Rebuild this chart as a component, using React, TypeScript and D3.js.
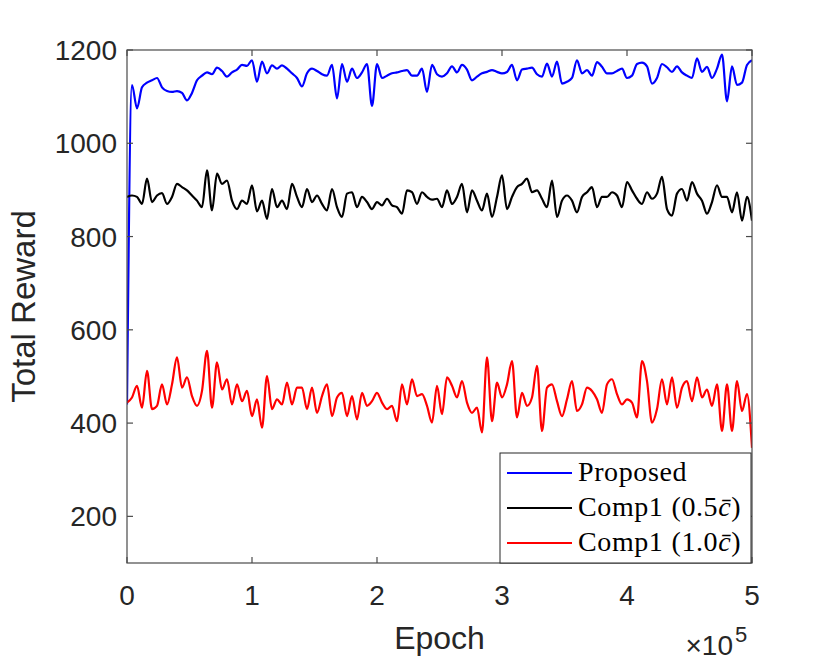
import * as d3 from 'd3';

const EPOCH_STEP = 4000;

const proposed = [
  440, 1125, 1075, 1120, 1130, 1135, 1140, 1120, 1112, 1110,
  1112, 1108, 1092, 1108, 1135, 1145, 1152, 1148, 1162, 1155,
  1143, 1152, 1158, 1168, 1166, 1178, 1132, 1175, 1150, 1167,
  1160, 1167, 1160, 1150, 1140, 1122, 1150, 1160, 1155, 1148,
  1145, 1168, 1096, 1170, 1132, 1160, 1140, 1152, 1170, 1080,
  1170, 1140, 1145, 1150, 1152, 1155, 1157, 1145, 1145, 1160,
  1110, 1168, 1148, 1143, 1150, 1165, 1152, 1168, 1158, 1135,
  1143, 1150, 1153, 1157, 1153, 1150, 1153, 1168, 1135, 1158,
  1160, 1162, 1148, 1143, 1171, 1143, 1175, 1128, 1132, 1140,
  1178, 1150, 1157, 1145, 1174, 1164, 1150, 1150, 1155, 1160,
  1140, 1145, 1170, 1173, 1165, 1128, 1140, 1170, 1163, 1153,
  1165, 1152, 1145, 1140, 1182, 1153, 1164, 1140, 1160, 1190,
  1090, 1165, 1125, 1130, 1168, 1178,
];

const comp05 = [
  885, 888, 885, 870, 924, 874, 888, 893, 870, 885,
  913, 906, 899, 888, 877, 863, 942, 856, 935, 913,
  920, 877, 859, 877, 870, 910, 854, 877, 838, 902,
  863, 877, 859, 913, 885, 863, 902, 874, 888, 870,
  856, 902, 863, 842, 892, 895, 863, 885, 874, 859,
  874, 867, 881, 867, 863, 849, 899, 895, 870, 895,
  885, 879, 881, 863, 899, 870, 885, 913, 852, 899,
  877, 856, 892, 842, 885, 931, 859, 885, 906, 913,
  924, 895, 899, 881, 863, 920, 842, 877, 888, 877,
  852, 885, 895, 906, 863, 885, 885, 895, 888, 863,
  917, 899, 881, 870, 895, 881, 892, 928, 859, 845,
  892, 902, 877, 917, 892, 877, 849, 874, 910, 885,
  885, 852, 895, 834, 885, 834,
];

const comp10 = [
  444, 455, 480, 433, 512, 430, 437, 483, 440, 483,
  541, 476, 498, 458, 437, 469, 555, 433, 530, 472,
  494, 440, 483, 447, 469, 415, 451, 390, 501, 430,
  451, 440, 487, 440, 476, 476, 430, 476, 422, 458,
  483, 415, 455, 465, 415, 458, 408, 465, 437, 447,
  465, 444, 430, 437, 404, 483, 440, 494, 458, 462,
  437, 401, 480, 419, 498, 480, 455, 490, 444, 422,
  433, 380, 541, 404, 487, 455, 483, 533, 412, 465,
  437, 455, 523, 383, 476, 483, 447, 415, 451, 490,
  426, 440, 476, 469, 451, 422, 483, 494, 462, 440,
  451, 444, 412, 533, 490, 401, 430, 494, 440, 498,
  433, 476, 490, 447, 498, 455, 472, 437, 483, 383,
  483, 383, 490, 426, 462, 347,
];

const seriesNames = ['Proposed', 'Comp1', 'Comp1'];
const seriesCoef = ['', '0.5', '1.0'];
const seriesColors = ['#0000ff', '#000000', '#ff0000'];

const xTicks = [0, 100000, 200000, 300000, 400000, 500000];
const yTicks = [200, 400, 600, 800, 1000, 1200];

const WIDTH = 830;
const HEIGHT = 664;
const PLOT = { left: 127, right: 752, top: 50, bottom: 563 };
const AXIS_COLOR = '#4a4a4a';
const TEXT_COLOR = '#262626';
const TICK_LEN = 6;
const SANS = '"Liberation Sans", Arial, Helvetica, sans-serif';
const SERIF = '"Liberation Serif", "Times New Roman", serif';

export default function App() {
  const x = d3.scaleLinear().domain([0, 500000]).range([PLOT.left, PLOT.right]);
  const y = d3.scaleLinear().domain([100, 1200]).range([PLOT.bottom, PLOT.top]);

  const line = d3
    .line<number>()
    .x((_, i) => x(i * EPOCH_STEP))
    .y((d) => y(d))
    .curve(d3.curveMonotoneX);

  const allSeries = [proposed, comp05, comp10];

  // legend placement
  const legend = { x: 500, y: 453, w: 251, h: 110 };
  const rowY = [473, 508, 543];

  return (
    <svg
      width={WIDTH}
      height={HEIGHT}
      style={{ position: 'absolute', left: 0, top: 0, background: '#fff' }}
    >
      <rect x={0} y={0} width={WIDTH} height={HEIGHT} fill="#fff" />

      <defs>
        <clipPath id="plot-clip">
          <rect
            x={PLOT.left}
            y={PLOT.top}
            width={PLOT.right - PLOT.left}
            height={PLOT.bottom - PLOT.top}
          />
        </clipPath>
      </defs>

      {/* data */}
      <g clipPath="url(#plot-clip)">
        {allSeries.map((s, k) => (
          <path
            key={k}
            d={line(s) ?? ''}
            fill="none"
            stroke={seriesColors[k]}
            strokeWidth={2.2}
            strokeLinejoin="round"
          />
        ))}
      </g>

      {/* box + ticks */}
      <rect
        x={PLOT.left}
        y={PLOT.top}
        width={PLOT.right - PLOT.left}
        height={PLOT.bottom - PLOT.top}
        fill="none"
        stroke={AXIS_COLOR}
        strokeWidth={1.2}
      />
      {xTicks.map((t) => (
        <g key={`x${t}`}>
          <line x1={x(t)} x2={x(t)} y1={PLOT.bottom} y2={PLOT.bottom - TICK_LEN} stroke={AXIS_COLOR} strokeWidth={1.2} />
          <line x1={x(t)} x2={x(t)} y1={PLOT.top} y2={PLOT.top + TICK_LEN} stroke={AXIS_COLOR} strokeWidth={1.2} />
          <text
            x={x(t)}
            y={605}
            textAnchor="middle"
            fontFamily={SANS}
            fontSize={28}
            fill={TEXT_COLOR}
          >
            {t / 100000}
          </text>
        </g>
      ))}
      {yTicks.map((t) => (
        <g key={`y${t}`}>
          <line x1={PLOT.left} x2={PLOT.left + TICK_LEN} y1={y(t)} y2={y(t)} stroke={AXIS_COLOR} strokeWidth={1.2} />
          <line x1={PLOT.right} x2={PLOT.right - TICK_LEN} y1={y(t)} y2={y(t)} stroke={AXIS_COLOR} strokeWidth={1.2} />
          <text
            x={117}
            y={y(t) + 10}
            textAnchor="end"
            fontFamily={SANS}
            fontSize={28}
            fill={TEXT_COLOR}
          >
            {t}
          </text>
        </g>
      ))}

      {/* axis labels */}
      <text
        x={(PLOT.left + PLOT.right) / 2}
        y={649}
        textAnchor="middle"
        fontFamily={SANS}
        fontSize={32}
        fill={TEXT_COLOR}
      >
        Epoch
      </text>
      <text
        transform={`translate(35,${(PLOT.top + PLOT.bottom) / 2}) rotate(-90)`}
        textAnchor="middle"
        fontFamily={SANS}
        fontSize={33}
        fill={TEXT_COLOR}
      >
        Total Reward
      </text>
      <text x={733} y={655} textAnchor="end" fontFamily={SANS} fontSize={28} fill={TEXT_COLOR}>
        ×10
      </text>
      <text x={735} y={642} fontFamily={SANS} fontSize={22} fill={TEXT_COLOR}>
        5
      </text>

      {/* legend */}
      <rect
        x={legend.x}
        y={legend.y}
        width={legend.w}
        height={legend.h}
        fill="#fff"
        stroke={TEXT_COLOR}
        strokeWidth={1}
      />
      {seriesNames.map((name, k) => (
        <g key={k}>
          <line
            x1={507}
            x2={572}
            y1={rowY[k]}
            y2={rowY[k]}
            stroke={seriesColors[k]}
            strokeWidth={2}
          />
          <text
            x={578}
            y={rowY[k] + 8}
            fontFamily={SERIF}
            fontSize={28}
            letterSpacing={0.6}
            fill="#000"
          >
            {name}
            {seriesCoef[k] && (
              <>
                <tspan dx={8}>({seriesCoef[k]}</tspan>
                <tspan fontStyle="italic">c&#772;</tspan>
                <tspan>)</tspan>
              </>
            )}
          </text>
        </g>
      ))}
    </svg>
  );
}
